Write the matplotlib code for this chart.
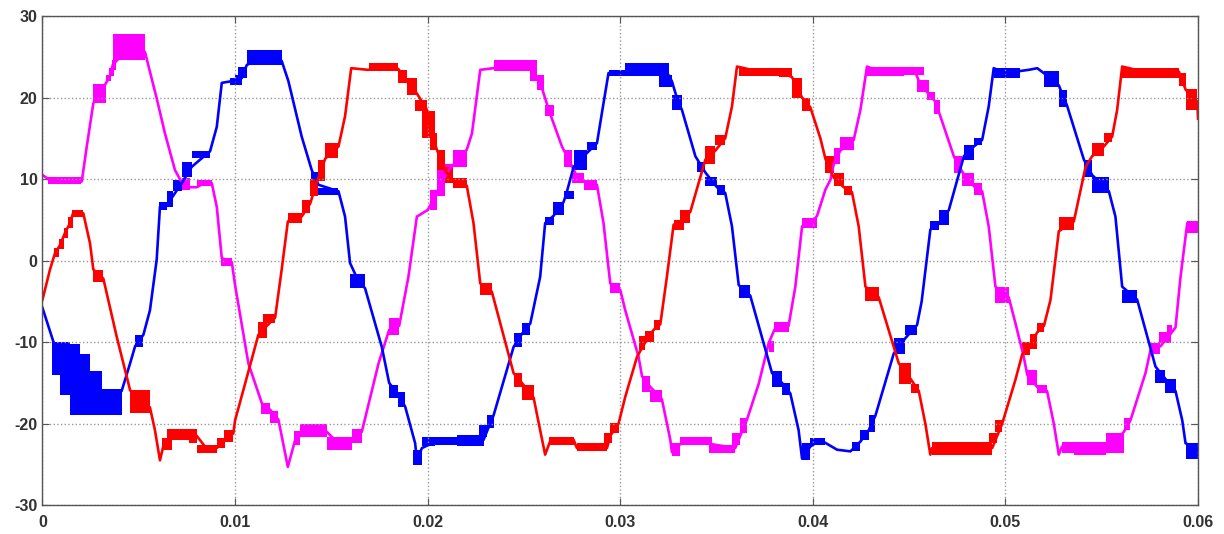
import numpy as np
import matplotlib
matplotlib.use("Agg")
import matplotlib.pyplot as plt

# time in ms, value
mag_line = [(0, 10.5), (0.3, 10.0), (1.0, 9.7), (2.04, 9.7), (2.3, 14.0), (2.64, 19.3), (2.95, 20.5), (3.28, 21.7),
            (3.5, 22.6), (3.65, 24.0), (4.5, 26.2), (5.32, 25.6), (5.93, 19.9), (6.36, 15.6), (6.88, 11.1),
            (7.23, 9.6), (7.66, 9.0), (8.01, 9.0), (8.4, 9.5), (8.79, 9.5), (9.05, 6.6), (9.31, 0.3),
            (9.83, -0.2), (10.0, -3.0), (10.69, -12.6), (11.39, -17.5), (11.82, -18.3), (12.25, -19.5),
            (12.74, -25.3), (13.12, -22.0), (13.38, -21.5), (14.0, -20.8), (14.76, -21.0), (15.4, -22.5),
            (16.06, -22.0), (16.58, -21.0), (17.45, -12.6), (18.0, -8.5), (18.52, -8.0), (19.0, -2.0),
            (19.44, 5.4), (20.0, 6.2), (20.3, 7.5), (20.7, 9.5), (21.1, 11.1), (21.6, 12.5), (22.03, 13.6),
            (22.3, 15.6), (22.73, 23.4), (23.42, 23.6), (24.5, 24.0), (25.33, 23.8), (25.5, 23.0),
            (25.85, 21.8), (26.3, 18.4), (26.97, 14.0), (27.3, 12.5), (27.8, 10.1), (28.4, 9.3),
            (28.79, 9.3), (29.13, 4.6), (29.48, -2.8), (30.0, -3.6), (30.26, -6.1), (30.95, -11.8),
            (31.13, -14.2), (31.56, -15.5), (32.16, -17.0), (32.6, -22.0), (32.68, -23.5), (33.12, -22.5),
            (34.0, -22.0), (34.7, -22.5), (35.97, -23.0), (36.23, -21.5), (36.58, -19.5), (37.19, -15.1),
            (37.71, -10.1), (38.0, -8.5), (38.74, -8.0), (39.09, -3.2), (39.44, 4.2), (40.0, 4.8),
            (40.22, 5.5), (40.65, 8.7), (40.91, 9.9), (41.1, 12.0), (41.43, 13.5), (42.12, 14.8),
            (42.47, 18.5), (42.81, 23.8), (43.5, 23.2), (44.7, 23.2), (45.3, 23.2), (45.6, 21.5),
            (46.0, 20.5), (46.36, 19.5), (46.62, 17.7), (47.32, 12.8), (47.6, 11.5), (48.0, 10.0),
            (48.5, 8.8), (48.79, 8.5), (49.13, 4.2), (49.48, -3.2), (50.17, -4.5), (50.52, -7.7),
            (50.95, -11.8), (51.13, -14.0), (51.65, -15.5), (52.16, -16.0), (52.51, -20.0), (52.77, -23.8),
            (52.94, -22.8), (53.55, -22.9), (55.2, -23.0), (55.7, -22.3), (56.15, -21.0), (56.49, -19.6),
            (57.27, -13.8), (57.53, -11.0), (58.05, -10.5), (58.57, -9.0), (58.83, -8.2), (59.09, -2.0),
            (59.44, 4.6), (60.0, 4.2)]

mag_blocks = [(0.3, 2.0, 9.4, 10.2), (2.61, 3.28, 19.3, 21.7), (3.28, 3.55, 22.0, 22.8),
              (3.45, 3.7, 22.6, 23.6), (3.62, 3.8, 23.4, 24.6), (3.65, 5.32, 24.6, 27.8),
              (7.23, 7.66, 8.7, 10.1), (8.01, 8.79, 9.1, 9.9), (9.27, 9.83, -0.7, 0.3),
              (11.35, 11.82, -18.8, -17.5), (11.82, 12.25, -19.9, -18.5), (13.08, 13.38, -22.6, -20.9),
              (13.38, 14.76, -21.6, -20.0), (14.76, 16.06, -23.2, -21.6), (16.06, 16.58, -22.4, -20.6),
              (18.0, 18.52, -9.1, -7.1), (20.13, 20.48, 6.2, 8.7), (20.48, 20.91, 7.9, 11.1),
              (20.91, 21.34, 10.3, 11.9), (21.34, 22.03, 11.5, 13.6), (23.42, 25.33, 23.2, 24.6),
              (25.33, 25.67, 22.0, 24.6), (25.67, 26.02, 20.9, 22.8), (26.1, 26.54, 17.7, 19.1),
              (27.06, 27.49, 11.5, 13.6), (27.49, 28.1, 9.5, 10.7), (28.1, 28.79, 8.7, 9.9),
              (29.48, 30.0, -4.0, -2.8), (31.13, 31.56, -16.1, -14.2), (31.56, 32.16, -17.3, -15.9),
              (32.68, 33.12, -24.0, -22.4), (33.12, 34.76, -22.6, -21.6), (34.59, 35.97, -23.6, -22.6),
              (35.8, 36.23, -22.6, -21.2), (36.23, 36.58, -21.2, -19.3), (37.71, 37.97, -11.2, -9.9),
              (37.97, 38.74, -8.7, -7.5), (39.44, 40.22, 4.0, 5.2), (41.08, 41.43, 11.9, 13.8),
              (41.43, 42.12, 13.6, 15.2), (42.81, 44.72, 22.6, 23.8), (44.72, 45.75, 22.8, 23.8),
              (45.41, 46.02, 20.7, 22.2), (45.93, 46.36, 19.7, 20.7), (46.28, 46.62, 18.0, 19.7),
              (47.32, 47.75, 10.7, 12.8), (47.75, 48.36, 9.1, 10.7), (48.36, 48.79, 8.1, 9.5),
              (49.48, 50.17, -5.2, -3.2), (51.13, 51.65, -15.3, -13.4), (51.65, 52.16, -16.3, -15.3),
              (52.94, 53.55, -23.6, -22.2), (53.55, 55.2, -23.8, -22.2), (55.2, 56.15, -23.6, -21.2),
              (56.15, 56.49, -20.8, -19.3), (57.53, 58.05, -11.4, -10.1), (57.97, 58.57, -10.1, -8.7),
              (58.4, 58.66, -9.0, -7.9), (59.44, 60.0, 3.4, 4.8)]

blue_line = [(0, -5.8), (0.56, -9.9), (1.0, -12.0), (2.0, -15.0), (3.0, -17.0), (4.11, -16.0),
             (4.55, -12.6), (4.81, -10.5), (5.24, -9.1), (5.58, -6.1), (5.93, 0.1), (6.1, 6.6),
             (6.45, 6.8), (6.8, 8.0), (7.23, 9.5), (7.75, 11.5), (8.44, 12.9), (8.7, 13.4), (9.05, 16.4),
             (9.31, 21.8), (9.8, 22.0), (10.26, 22.2), (10.35, 22.4), (10.61, 24.0), (11.5, 25.0),
             (12.42, 24.5), (12.77, 22.0), (13.46, 15.2), (13.98, 11.1), (14.33, 9.3), (15.37, 8.5),
             (15.71, 5.4), (15.97, -0.3), (16.4, -2.5), (16.75, -3.4), (17.62, -10.6), (18.0, -15.0),
             (18.48, -16.5), (18.83, -17.9), (19.35, -22.4), (19.44, -24.5), (19.7, -23.0), (20.39, -22.2),
             (21.5, -22.0), (22.9, -22.0), (23.07, -21.0), (23.42, -19.0), (24.46, -10.6), (24.89, -9.0),
             (25.33, -7.7), (25.84, -2.0), (26.1, 4.6), (26.54, 5.5), (27.06, 7.2), (27.2, 8.2),
             (27.58, 11.5), (28.27, 13.2), (28.79, 14.4), (29.13, 19.3), (29.39, 23.0), (30.52, 23.0),
             (31.5, 23.4), (32.4, 23.2), (32.68, 22.0), (33.0, 19.5), (33.2, 18.5), (33.9, 12.8),
             (34.42, 10.8), (35.02, 9.0), (35.45, 8.3), (35.8, 4.2), (36.15, -3.0), (36.75, -4.3),
             (37.88, -13.8), (38.4, -15.0), (38.83, -16.3), (39.26, -20.8), (39.44, -24.3), (39.87, -22.8),
             (40.39, -22.0), (41.26, -23.2), (41.95, -23.4), (42.47, -22.2), (42.9, -20.8), (43.25, -19.0),
             (44.2, -11.4), (44.81, -9.5), (45.41, -7.9), (45.65, -5.0), (46.1, 3.8), (46.54, 4.5),
             (47.06, 6.2), (47.84, 12.8), (48.36, 14.0), (48.79, 14.8), (49.13, 18.9), (49.39, 23.6),
             (50.0, 23.0), (51.21, 23.4), (51.65, 23.6), (51.99, 23.0), (52.77, 21.5), (53.2, 19.0),
             (54.07, 12.4), (54.5, 10.5), (55.37, 8.5), (55.71, 5.4), (56.06, -3.2), (56.84, -4.8),
             (57.79, -13.0), (58.3, -14.5), (58.83, -16.0), (59.18, -19.6), (59.35, -22.4), (60.0, -23.2)]

blue_blocks = [(0.48, 0.91, -14.0, -10.0), (0.91, 1.43, -16.5, -10.0), (1.43, 1.95, -18.9, -10.2),
               (1.95, 2.47, -18.9, -11.5), (2.47, 3.07, -18.9, -13.5), (3.07, 4.11, -18.9, -15.7),
               (4.81, 5.24, -10.6, -9.1), (6.07, 6.45, 6.2, 7.2), (6.45, 6.8, 6.6, 8.5),
               (6.8, 7.23, 8.5, 9.9), (7.23, 7.75, 10.3, 12.1), (7.75, 8.7, 12.6, 13.4),
               (9.74, 10.26, 21.6, 22.4), (10.0, 10.35, 21.6, 22.8), (10.17, 10.61, 22.4, 23.8),
               (10.61, 12.42, 24.0, 25.8), (13.95, 14.33, 8.9, 10.9), (14.33, 15.37, 8.1, 8.9),
               (15.97, 16.75, -3.4, -1.6), (18.0, 18.48, -16.9, -15.3), (18.48, 18.83, -17.9, -16.1),
               (19.26, 19.7, -25.1, -23.2), (19.7, 20.39, -22.8, -21.6), (20.13, 21.5, -22.6, -21.6),
               (21.5, 22.9, -22.8, -21.4), (22.64, 23.07, -21.6, -20.2), (23.07, 23.42, -20.5, -18.9),
               (24.46, 24.89, -10.6, -8.9), (24.89, 25.33, -9.1, -7.7), (26.1, 26.54, 4.4, 5.4),
               (26.5, 27.06, 5.6, 7.2), (27.06, 27.58, 7.6, 8.5), (27.58, 28.27, 11.1, 13.6),
               (28.27, 28.79, 13.6, 14.6), (29.39, 30.52, 22.6, 23.4), (30.26, 32.51, 22.6, 24.2),
               (31.99, 32.68, 21.3, 22.8), (32.68, 33.2, 18.5, 20.3), (33.98, 34.42, 10.9, 12.1),
               (34.42, 35.02, 9.1, 10.3), (35.02, 35.45, 8.1, 9.3), (36.15, 36.75, -4.6, -3.0),
               (37.88, 38.4, -15.5, -13.6), (38.4, 38.83, -16.5, -15.0), (39.44, 39.87, -24.5, -22.4),
               (39.87, 40.65, -22.6, -21.8), (42.03, 42.47, -23.4, -22.2), (42.47, 42.9, -22.0, -20.8),
               (42.9, 43.25, -21.0, -19.0), (44.2, 44.81, -11.4, -9.5), (44.81, 45.41, -9.1, -7.9),
               (46.1, 46.54, 3.8, 4.8), (46.54, 47.06, 4.4, 6.2), (47.84, 48.36, 12.4, 14.2),
               (48.36, 48.79, 14.2, 15.0), (49.39, 50.78, 22.4, 23.6), (51.99, 52.77, 21.3, 23.2),
               (52.77, 53.2, 18.9, 20.9), (54.07, 54.5, 10.3, 12.4), (54.5, 55.37, 8.3, 10.3),
               (56.06, 56.84, -5.2, -3.6), (57.79, 58.3, -15.0, -13.4), (58.3, 58.83, -16.3, -14.5),
               (59.35, 60.0, -24.3, -22.4)]

red_line = [(0, -4.8), (0.39, -1.1), (0.65, 0.9), (0.91, 1.9), (1.17, 3.4), (1.43, 4.6), (1.6, 5.9),
            (2.12, 5.8), (2.47, 2.1), (2.64, -1.1), (3.16, -2.2), (3.85, -9.3), (4.55, -15.9),
            (5.0, -17.3), (5.58, -18.0), (5.84, -20.8), (6.1, -24.5), (6.3, -22.5), (6.71, -21.5),
            (7.5, -21.2), (8.01, -21.5), (8.5, -23.0), (9.05, -23.0), (9.4, -22.0), (9.91, -21.2),
            (10.0, -19.6), (10.52, -15.1), (11.21, -9.1), (11.65, -8.0), (12.08, -7.0), (12.42, -1.1),
            (12.74, 4.8), (13.46, 5.4), (13.9, 7.0), (14.3, 10.0), (14.68, 12.5), (15.37, 14.0),
            (15.71, 17.7), (16.03, 23.6), (16.9, 23.4), (17.7, 23.6), (18.48, 23.5), (18.92, 22.0),
            (19.44, 20.5), (19.96, 18.5), (20.13, 16.0), (20.48, 13.6), (20.91, 11.0), (21.34, 9.8),
            (22.03, 9.2), (22.38, 4.6), (22.73, -2.8), (23.33, -3.8), (24.46, -13.8), (24.89, -15.0),
            (25.5, -16.8), (25.84, -20.8), (26.1, -23.8), (26.35, -22.2), (27.58, -22.0), (27.75, -23.0),
            (29.31, -23.0), (29.48, -21.5), (29.91, -20.0), (30.26, -16.7), (30.87, -11.8), (31.3, -10.0),
            (31.73, -8.5), (32.08, -7.8), (32.42, -2.0), (32.77, 4.4), (33.29, 5.0), (33.64, 6.0),
            (34.42, 12.4), (34.94, 13.5), (35.45, 15.0), (35.8, 18.9), (36.06, 23.8), (37.2, 23.2),
            (38.22, 23.3), (38.92, 22.5), (39.44, 20.0), (39.87, 18.8), (40.39, 15.0), (40.65, 12.5),
            (41.08, 10.2), (41.6, 9.0), (42.03, 8.4), (42.38, 4.2), (42.73, -3.2), (43.42, -4.5),
            (44.46, -12.6), (45.07, -14.5), (45.5, -16.0), (45.84, -20.0), (46.1, -23.8), (46.19, -23.0),
            (49.31, -23.0), (49.57, -21.5), (49.83, -20.0), (50.52, -14.6), (50.87, -11.5), (51.3, -10.3),
            (51.65, -8.8), (52.0, -8.0), (52.34, -4.8), (52.77, 3.6), (53.55, 4.8), (54.16, 11.5),
            (54.5, 12.8), (55.11, 14.0), (55.54, 15.2), (55.8, 18.5), (56.06, 23.8), (57.5, 23.0),
            (59.0, 23.2), (59.35, 21.0), (59.96, 19.5), (60.0, 17.4)]

red_blocks = [(0.6, 0.85, 0.5, 1.6), (0.85, 1.1, 1.4, 2.6), (1.1, 1.35, 2.8, 4.0), (1.35, 1.6, 4.0, 5.4),
              (1.52, 2.12, 5.4, 6.2), (2.61, 3.16, -2.6, -1.1), (4.55, 5.58, -18.7, -15.9),
              (6.19, 6.71, -23.2, -21.8), (6.45, 8.01, -22.0, -20.6), (7.6, 8.01, -22.4, -21.2),
              (8.01, 9.05, -23.6, -22.6), (9.05, 9.48, -23.0, -21.8), (9.4, 9.91, -22.2, -20.8),
              (11.21, 11.65, -9.5, -7.5), (11.47, 12.08, -7.7, -6.5), (12.74, 13.46, 4.6, 5.8),
              (13.46, 13.9, 5.8, 7.4), (13.9, 14.3, 7.9, 10.0), (14.3, 14.68, 9.8, 12.4),
              (14.68, 15.37, 12.6, 14.4), (16.93, 18.48, 23.2, 24.2), (18.48, 18.92, 21.8, 23.4),
              (18.92, 19.44, 20.3, 22.4), (19.35, 19.96, 18.4, 19.7), (19.7, 20.39, 15.0, 18.3),
              (20.13, 20.48, 13.6, 15.6), (20.48, 20.91, 11.1, 13.6), (20.91, 21.34, 9.5, 11.5),
              (21.34, 22.03, 8.9, 10.1), (22.73, 23.33, -4.2, -2.8), (24.46, 24.89, -15.5, -13.8),
              (24.89, 25.5, -17.1, -15.3), (26.28, 27.58, -22.6, -21.6), (27.75, 29.31, -23.4, -22.4),
              (29.13, 29.57, -22.4, -21.2), (29.48, 29.91, -21.2, -19.9), (30.95, 31.3, -11.0, -9.3),
              (31.3, 31.73, -10.0, -8.6), (31.73, 32.08, -8.5, -7.3), (32.77, 33.29, 3.8, 5.0),
              (33.12, 33.64, 4.6, 6.2), (34.42, 34.94, 11.9, 14.0), (34.94, 35.45, 14.2, 15.4),
              (36.15, 38.22, 22.6, 23.6), (38.22, 38.92, 22.5, 23.6), (38.92, 39.44, 19.9, 22.4),
              (39.44, 39.87, 18.3, 19.9), (40.65, 41.08, 10.7, 12.8), (41.08, 41.6, 9.1, 10.7),
              (41.6, 42.03, 8.1, 9.1), (42.73, 43.42, -5.0, -3.2), (44.46, 45.07, -15.1, -12.6),
              (45.07, 45.5, -16.3, -15.1), (46.19, 49.31, -23.8, -22.2), (49.13, 49.57, -22.4, -21.2),
              (49.48, 49.83, -21.0, -19.6), (50.87, 51.3, -11.6, -10.0), (51.3, 51.65, -10.9, -9.0),
              (51.65, 52.0, -8.7, -7.7), (52.77, 53.55, 3.8, 5.4), (54.5, 55.11, 12.8, 14.4),
              (55.11, 55.54, 14.6, 15.6), (56.06, 59.0, 22.4, 23.6), (59.0, 59.35, 21.4, 23.0),
              (59.35, 59.96, 18.5, 21.1)]

xticks = [0, 0.01, 0.02, 0.03, 0.04, 0.05, 0.06]
xlabels = ["0", "0.01", "0.02", "0.03", "0.04", "0.05", "0.06"]
yticks = [-30, -20, -10, 0, 10, 20, 30]

plt.rcParams['font.family'] = ['Liberation Sans', 'DejaVu Sans']
plt.rcParams['axes.unicode_minus'] = False

fig = plt.figure(figsize=(12.24, 5.34), dpi=100)
ax = fig.add_axes([0.0347, 0.054, 0.9441, 0.916])

series = [(mag_line, mag_blocks, "#ff00ff"),
          (blue_line, blue_blocks, "#0000ff"),
          (red_line, red_blocks, "#ff0000")]

for line, blocks, c in series:
    arr = np.array(line)
    ax.plot(arr[:, 0] * 1e-3, arr[:, 1], color=c, lw=1.9)
    for t0, t1, lo, hi in blocks:
        ax.fill_between([t0 * 1e-3, t1 * 1e-3], lo, hi, color=c, lw=0)

ax.set_xlim(0, 0.06)
ax.set_ylim(-30, 30)
ax.set_xticks(xticks)
ax.set_xticklabels(xlabels)
ax.set_yticks(yticks)
ax.grid(True, color="#999999", linestyle=":", linewidth=1.0)
ax.tick_params(direction="in", top=True, right=True, length=5, colors="#555555",
               labelcolor="#333333", labelsize=11.5)
ax.tick_params(axis="x", pad=7)
for lab in ax.get_xticklabels() + ax.get_yticklabels():
    lab.set_fontweight("bold")
for s in ax.spines.values():
    s.set_color("#555555")
    s.set_linewidth(1.0)

plt.savefig("out.png", dpi=100)
